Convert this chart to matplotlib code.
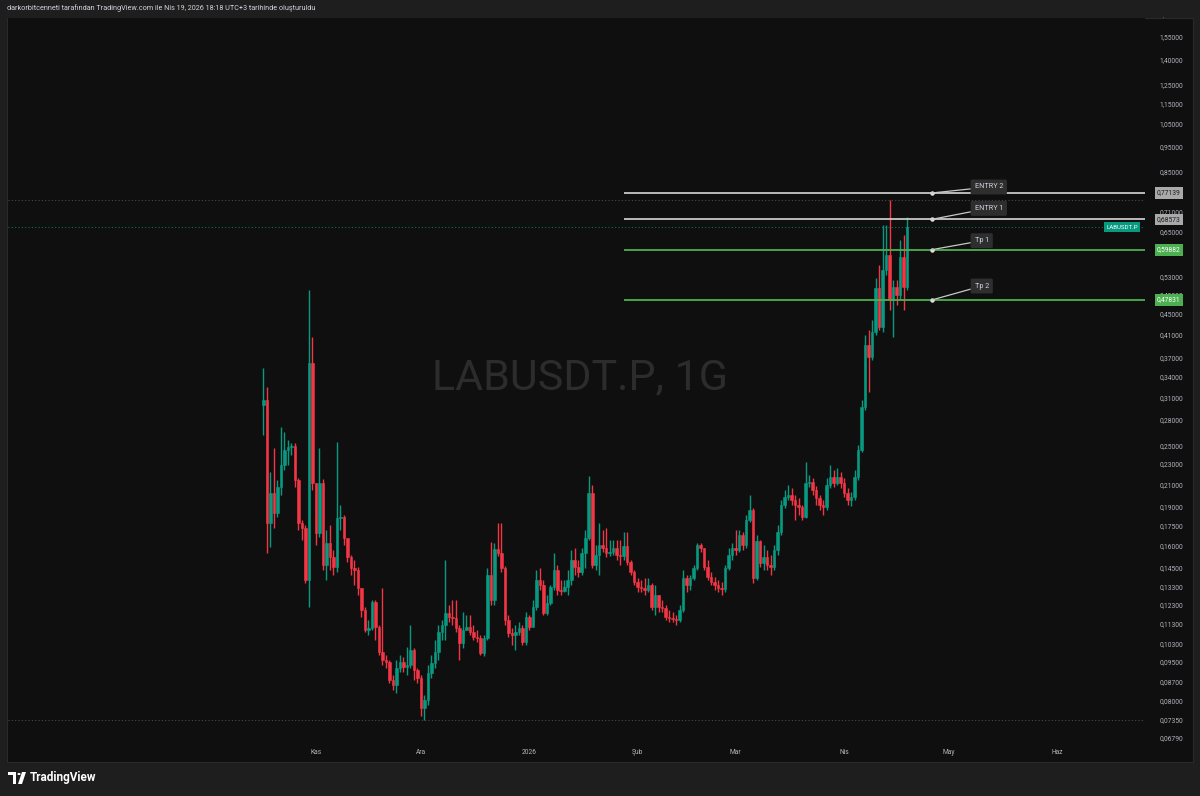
import numpy as np
import pandas as pd
import matplotlib
matplotlib.use("Agg")
import matplotlib.pyplot as plt
import matplotlib.dates as mdates
from matplotlib.patches import Rectangle, Polygon, Circle
from matplotlib.ticker import NullLocator

plt.rcParams['font.family'] = ['Roboto', 'DejaVu Sans']

# --- data (LABUSDT.P daily candles) ---
first_open = 0.300
closes_oct = [.3062, .1768, .2022, .1849, .2076, .2290, .2449, .2482, .2493, .2142,
              .1768, .1729, .1371, .3611, .2113]
highs_oct = [.3531, .3245, .2220, .2471, .2142, .2714, .2654, .2561, .2527, .2527,
             .2161, .1792, .1752, .5003, .4056]
lows_oct = [.2619, .1546, .1589, .1729, .1816, .2004, .2240, .2290, .2395, .2076,
            .1714, .1639, .1353, .1215, .2049]

closes_nov = [.1691, .2113, .1466, .1617, .1519, .1453, .1808, .1816, .1654, .1519,
              .1446, .1433, .1323, .1199, .1096, .1107, .1243, .1112, .0994, .0959,
              .0950, .0877, .0858, .0925, .0950, .0929, .0938, .1003, .0917, .0885]
highs_nov = [.2113, .2471, .2150, .1714, .1752, .1567, .2538, .1916, .1833, .1639,
             .1532, .1499, .1453, .1323, .1215, .1147, .1254, .1254, .1122, .1323,
             .0981, .0959, .0897, .0959, .0981, .0972, .1016, .1122, .1011, .0925]
lows_nov = [.1603, .1661, .1433, .1371, .1433, .1401, .1420, .1714, .1603, .1486,
            .1401, .1341, .1282, .1162, .1086, .1072, .1096, .1048, .0981, .0938,
            .0925, .0865, .0839, .0828, .0909, .0909, .0897, .0925, .0877, .0865]

closes_dec = [.0774, .0802, .0905, .0946, .0994, .1086, .1122, .1183, .1162, .1157,
              .1107, .1034, .1096, .1112, .1086, .1062, .1058, .0990, .1058, .1401,
              .1254, .1574, .1546, .1446, .1147, .1081, .1072, .1086, .1107, .1039, .1162]
highs_dec = [.0897, .0820, .0938, .0981, .1048, .1122, .1147, .1499, .1226, .1254,
             .1254, .1122, .1188, .1172, .1172, .1122, .1096, .1072, .1072, .1446,
             .1624, .1617, .1768, .1768, .1459, .1172, .1107, .1122, .1137, .1122, .1188]
lows_dec = [.0747, .0735, .0784, .0885, .0925, .0959, .1048, .1048, .1137, .1122,
            .1086, .0959, .1011, .1096, .1072, .1048, .1039, .0981, .0977, .1048,
            .1226, .1226, .1526, .1420, .1122, .1062, .1025, .1003, .1072, .1025, .1025]

closes_jan = [.1112, .1215, .1371, .1341, .1183, .1237, .1329, .1433, .1311, .1305,
              .1329, .1371, .1499, .1453, .1420, .1546, .1654, .2022, .1466, .1532,
              .1603, .1581, .1546, .1553, .1581, .1532, .1526, .1596, .1486, .1420, .1359]
highs_jan = [.1172, .1254, .1433, .1446, .1371, .1282, .1341, .1546, .1466, .1371,
             .1371, .1433, .1567, .1581, .1499, .1581, .1714, .2181, .2095, .1603,
             .1768, .1714, .1729, .1639, .1639, .1639, .1639, .1699, .1699, .1499, .1433]
lows_jan = [.1096, .1122, .1199, .1311, .1172, .1172, .1226, .1311, .1282, .1282,
            .1299, .1282, .1341, .1401, .1389, .1401, .1446, .1639, .1446, .1433,
            .1401, .1553, .1519, .1526, .1532, .1499, .1466, .1499, .1466, .1401, .1341]

closes_feb = [.1329, .1323, .1311, .1341, .1215, .1282, .1215, .1210, .1162, .1157,
              .1152, .1147, .1199, .1383, .1341, .1383, .1446, .1603, .1581, .1453,
              .1389, .1359, .1341, .1323, .1317, .1446, .1532, .1581]
highs_feb = [.1383, .1371, .1383, .1383, .1353, .1341, .1282, .1254, .1226, .1199,
             .1188, .1172, .1226, .1433, .1401, .1401, .1466, .1617, .1617, .1581,
             .1499, .1420, .1389, .1371, .1359, .1466, .1581, .1617]
lows_feb = [.1299, .1299, .1282, .1299, .1199, .1172, .1188, .1188, .1147, .1137,
            .1137, .1122, .1137, .1188, .1299, .1311, .1371, .1433, .1553, .1433,
            .1371, .1341, .1311, .1299, .1282, .1299, .1433, .1499]

closes_mar = [.1567, .1676, .1603, .1792, .1874, .1383, .1632, .1479, .1519, .1466,
              .1453, .1567, .1699, .1916, .1986, .2004, .1959, .1916, .1899, .1816,
              .2113, .2123, .2049, .1977, .1916, .1899, .2095, .2171, .2113, .2171, .2113]
highs_mar = [.1714, .1714, .1699, .1833, .2004, .1891, .1676, .1639, .1603, .1567,
             .1532, .1603, .1752, .1959, .2049, .2095, .2067, .2004, .1977, .1916,
             .2321, .2190, .2161, .2085, .2004, .1959, .2161, .2290, .2240, .2260, .2220]
lows_mar = [.1532, .1553, .1567, .1581, .1776, .1353, .1371, .1453, .1433, .1433,
            .1401, .1433, .1532, .1676, .1891, .1959, .1916, .1792, .1833, .1792,
            .1808, .2076, .2004, .1916, .1874, .1833, .1874, .2067, .2076, .2095, .2067]

closes_apr = [.2022, .1959, .1986, .2171, .2449, .2968, .3914, .3709, .4148, .5047,
              .4241, .5470, .5849, .4784, .5070, .4893, .5797, .5070, .6627]
highs_apr = [.2161, .2067, .2031, .2240, .2504, .3062, .4093, .4185, .4376, .5278,
             .5594, .6687, .6687, .7476, .5231, .5231, .6254, .6395, .6930]
lows_apr = [.1986, .1916, .1907, .1959, .2142, .2427, .2928, .3173, .3660, .4093,
            .4185, .4148, .5349, .4576, .4056, .4678, .4784, .4576, .5003]

closes = closes_oct + closes_nov + closes_dec + closes_jan + closes_feb + closes_mar + closes_apr
highs = highs_oct + highs_nov + highs_dec + highs_jan + highs_feb + highs_mar + highs_apr
lows = lows_oct + lows_nov + lows_dec + lows_jan + lows_feb + lows_mar + lows_apr
opens = [first_open] + closes[:-1]
dates = pd.date_range("2025-10-17", periods=len(closes), freq="D")

level_values = [0.77139, 0.68573, 0.59882, 0.47831]
level_names = ["ENTRY 2", "ENTRY 1", "Tp 1", "Tp 2"]
level_start = "2026-01-28"
callout_date = "2026-04-26"

price_ticks = [1.55, 1.40, 1.25, 1.15, 1.05, 0.95, 0.85, 0.71, 0.65, 0.53, 0.49, 0.45,
               0.41, 0.37, 0.34, 0.31, 0.28, 0.25, 0.23, 0.21, 0.19, 0.175, 0.16, 0.145,
               0.133, 0.123, 0.113, 0.103, 0.095, 0.087, 0.080, 0.0735, 0.0679]
month_ticks = ["2025-11-01", "2025-12-01", "2026-01-01", "2026-02-01", "2026-03-01",
               "2026-04-01", "2026-05-01", "2026-06-01"]
month_labels = ["Kas", "Ara", "2026", "Şub", "Mar", "Nis", "May", "Haz"]

symbol = "LABUSDT.P"
header = ("darkorbitcenneti tarafından TradingView.com ile Nis 19, 2026 18:18 UTC+3 "
          "tarihinde oluşturuldu")

# --- colours ---
UP, DOWN = "#089981", "#f23645"
BG, PANE = "#1e1e1e", "#0f0f0f"
TXT = "#b2b5be"
W, H = 1200, 796


def fx(px):
    return px / W


def fy(py):
    return 1 - py / H


fig = plt.figure(figsize=(W / 100, H / 100), dpi=100, facecolor=BG)
fig.add_artist(Rectangle((fx(7), fy(762)), (1193 - 7) / W, (762 - 18) / H,
                         transform=fig.transFigure, fc=PANE, ec="#2a2a2a", lw=0.8, zorder=0))

ax = fig.add_axes([fx(8), fy(745), 1137 / W, 727 / H])
ax.set_facecolor(PANE)
for s in ax.spines.values():
    s.set_visible(False)
ax.set_yscale("log")
ax.set_ylim(0.0656, 1.685)
ax.set_xlim(mdates.date2num(pd.Timestamp("2025-08-05")), mdates.date2num(pd.Timestamp("2026-06-26")))

x = mdates.date2num(dates)
o = np.array(opens)
c = np.array(closes)
colors = np.where(c >= o, UP, DOWN)

# watermark
ax.text(0.503, 0.505, f"{symbol}, 1G", transform=ax.transAxes, ha="center", va="center",
        fontsize=31, color="#2c2c2c", zorder=0)

# high / low / last price dotted lines
ax.axhline(max(highs), color="#4a4a4a", ls=(0, (1, 2)), lw=0.8, zorder=1)
ax.axhline(min(lows), color="#4a4a4a", ls=(0, (1, 2)), lw=0.8, zorder=1)
ax.axhline(closes[-1], color="#0e6e5f", ls=(0, (1, 2)), lw=0.8, zorder=1)

# candles
ax.vlines(x, lows, highs, colors=colors, lw=1, zorder=3)
ax.bar(x, np.abs(c - o), bottom=np.minimum(o, c), width=0.72, color=colors,
       edgecolor=colors, linewidth=0.4, zorder=4)

# entry / take-profit levels
xs = mdates.date2num(pd.Timestamp(level_start))
xe = ax.get_xlim()[1]
xc = mdates.date2num(pd.Timestamp(callout_date))
line_cols = ["#c8c8c8", "#c8c8c8", "#4caf50", "#4caf50"]
box_offsets = [(43, 6), (43, 11), (43, 9), (43, 14)]
for val, name, col, off in zip(level_values, level_names, line_cols, box_offsets):
    ax.hlines(val, xs, xe, colors=col, lw=1.3, zorder=5)
    ax.plot([xc], [val], "o", ms=2.2, color="#e0e0e0", zorder=6)
    ax.annotate(name, xy=(xc, val), xytext=off, textcoords="offset pixels",
                ha="left", va="center", fontsize=5.2, color="#d1d4dc", zorder=7,
                bbox=dict(boxstyle="round,pad=0.55,rounding_size=0.2", fc="#2e2e2e", ec="none"),
                arrowprops=dict(arrowstyle="-", color="#c8c8c8", lw=0.9, shrinkA=0, shrinkB=0))
    is_tp = name.startswith("Tp")
    ax.text(1.0106, val, f"{val:.5f}".replace(".", ","), transform=ax.get_yaxis_transform(),
            ha="left", va="center", fontsize=4.8, color="white" if is_tp else "#1c1c1c",
            bbox=dict(boxstyle="square,pad=0.35", fc="#4caf50" if is_tp else "#a9a9a9", ec="none"),
            clip_on=False, zorder=8)

# symbol tag on last price
ax.text(0.9938, closes[-1], symbol, transform=ax.get_yaxis_transform(), ha="right", va="center",
        fontsize=4.4, color="white", zorder=8,
        bbox=dict(boxstyle="square,pad=0.35", fc=UP, ec="none"))

# axes ticks
ax.yaxis.tick_right()
ax.set_yticks(price_ticks)
ax.set_yticklabels([f"{t:.5f}".replace(".", ",") for t in price_ticks])
ax.yaxis.set_minor_locator(NullLocator())
ax.tick_params(axis="y", length=0, pad=10.2, labelsize=4.8, labelcolor=TXT)
ax.set_xticks(mdates.date2num(pd.to_datetime(month_ticks)))
ax.set_xticklabels(month_labels)
ax.xaxis.set_minor_locator(NullLocator())
ax.tick_params(axis="x", length=0, pad=3, labelsize=4.8, labelcolor=TXT)
ax.grid(False)

# partially hidden top label, header band over it
fig.text(fx(1159), fy(15), "1,70000", fontsize=4.8, color=TXT, va="center", ha="left", zorder=2)
fig.add_artist(Rectangle((0, fy(17)), 1, 17 / H, transform=fig.transFigure,
                         fc=BG, ec="none", zorder=10))
fig.text(fx(7), fy(8), header, fontsize=5.2, color="#d1d4dc", va="center", ha="left", zorder=11)

# footer logo
def px_pts(pts):
    return [(fx(a), fy(b)) for a, b in pts]

fig.add_artist(Polygon(px_pts([(8, 772), (16, 772), (16, 784), (12.5, 784), (12.5, 775), (8, 775)]),
                       closed=True, transform=fig.transFigure, fc="white", ec="none", zorder=11))
fig.add_artist(Circle((fx(19), fy(774)), 1.6 / W, transform=fig.transFigure, fc="white", zorder=11))
fig.add_artist(Polygon(px_pts([(22, 772), (26, 772), (22, 784), (18, 784)]),
                       closed=True, transform=fig.transFigure, fc="white", ec="none", zorder=11))
fig.text(fx(30), fy(778), "TradingView", fontsize=8.5, fontweight="bold", color="white",
         va="center", ha="left", zorder=11)

fig.savefig("out.png", dpi=100, facecolor=BG)
